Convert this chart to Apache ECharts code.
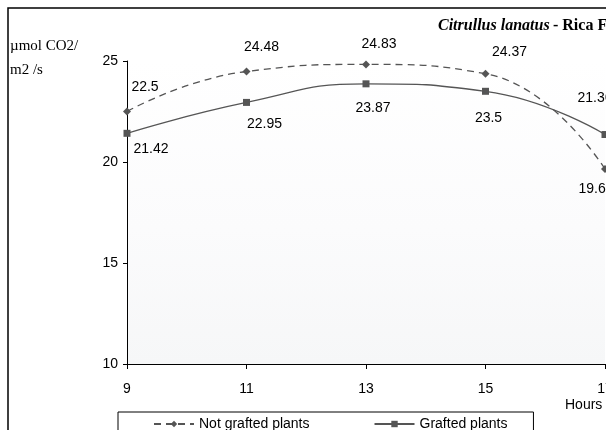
<!DOCTYPE html>
<html>
<head>
<meta charset="utf-8">
<script src="https://cdn.jsdelivr.net/npm/echarts@6/dist/echarts.min.js"></script>
<style>html,body{margin:0;padding:0;background:#fff;}#c{width:606px;height:430px;}</style>
</head>
<body>
<div id="c"></div>
<script>
// ---- data ----
var hours = [9, 11, 13, 15, 17];
var notGrafted = [22.5, 24.48, 24.83, 24.37, 19.65];
var grafted = [21.42, 22.95, 23.87, 23.5, 21.36];
var seriesNames = ['Not grafted plants', 'Grafted plants'];
var yTicks = [10, 15, 20, 25];

// ---- label placement (style only) ----
var offsNot = [[18, -24], [15, -24], [13, -20], [24, -22], [-9, 20]];
var offsGr = [[24, 16], [18, 22], [7, 24], [3, 27], [-10, -36]];

var SANS = '"Liberation Sans", Arial, sans-serif';
var SERIF = '"Liberation Serif", "Times New Roman", serif';
var LINE = '#555555';

function build(vals, offs) {
  return vals.map(function (v, i) {
    return {
      value: [hours[i], v],
      label: { offset: offs[i] }
    };
  });
}

var chart = echarts.init(document.getElementById('c'), null, { renderer: 'canvas' });
chart.setOption({
  animation: false,
  backgroundColor: '#ffffff',
  grid: {
    left: 127, right: 1, top: 61, bottom: 66,
    outerBoundsMode: 'none', containLabel: false,
    show: true, borderWidth: 0,
    backgroundColor: {
      type: 'linear', x: 0, y: 0, x2: 0, y2: 1,
      colorStops: [{ offset: 0, color: '#ffffff' }, { offset: 0.55, color: '#fbfbfc' }, { offset: 1, color: '#f6f7f8' }]
    }
  },
  xAxis: {
    type: 'value', min: 9, max: 17, interval: 2,
    axisLine: { show: true, onZero: false, lineStyle: { color: '#000', width: 1 } },
    axisTick: { show: true, length: 5, lineStyle: { color: '#000' } },
    splitLine: { show: false },
    axisLabel: { color: '#000', fontFamily: SANS, fontSize: 14, margin: 18, hideOverlap: false }
  },
  yAxis: {
    type: 'value', min: yTicks[0], max: yTicks[yTicks.length - 1], interval: 5,
    axisLine: { show: true, lineStyle: { color: '#000', width: 1 } },
    axisTick: { show: true, length: 4, lineStyle: { color: '#000' } },
    splitLine: { show: false },
    axisLabel: { color: '#000', fontFamily: SANS, fontSize: 14, margin: 9 }
  },
  legend: {
    left: 118, top: 412,
    borderColor: '#000', borderWidth: 1,
    padding: [5, 26, 12, 35],
    itemWidth: 40, itemHeight: 8, itemGap: 64,
    textStyle: { color: '#000', fontFamily: SANS, fontSize: 14 },
    data: seriesNames
  },
  series: [
    {
      name: seriesNames[0], type: 'line', smooth: 0.5,
      data: build(notGrafted, offsNot),
      symbol: 'diamond', symbolSize: 8,
      itemStyle: { color: LINE },
      lineStyle: { color: LINE, width: 1.3, type: [7, 5] },
      label: { show: true, position: 'inside', color: '#000', fontFamily: SANS, fontSize: 14,
        formatter: function (p) { return p.value[1]; } }
    },
    {
      name: seriesNames[1], type: 'line', smooth: 0.5,
      data: build(grafted, offsGr),
      symbol: 'rect', symbolSize: 7,
      itemStyle: { color: LINE },
      lineStyle: { color: LINE, width: 1.3, type: 'solid' },
      label: { show: true, position: 'inside', color: '#000', fontFamily: SANS, fontSize: 14,
        formatter: function (p) { return p.value[1]; } }
    }
  ],
  graphic: [
    { type: 'rect', shape: { x: 8, y: 8, width: 800, height: 600 }, style: { fill: 'none', stroke: '#000', lineWidth: 1.5 }, silent: true, z: 100 },
    { type: 'text', left: 10, top: 39, style: { text: 'µmol CO2/', font: '15px ' + SERIF, fill: '#000' } },
    { type: 'text', left: 10, top: 63, style: { text: 'm2 /s', font: '15px ' + SERIF, fill: '#000' } },
    { type: 'text', left: 565, top: 398, style: { text: 'Hours', font: '14px ' + SANS, fill: '#000' } },
    { type: 'text', left: 438, top: 18, style: {
        text: '{i|Citrullus lanatus} {b|- Rica F1}',
        rich: {
          i: { fontFamily: SERIF, fontSize: 16, fontWeight: 'bold', fontStyle: 'italic', fill: '#000' },
          b: { fontFamily: SERIF, fontSize: 16, fontWeight: 'bold', fill: '#000' }
        }
      } }
  ]
});
</script>
</body>
</html>
